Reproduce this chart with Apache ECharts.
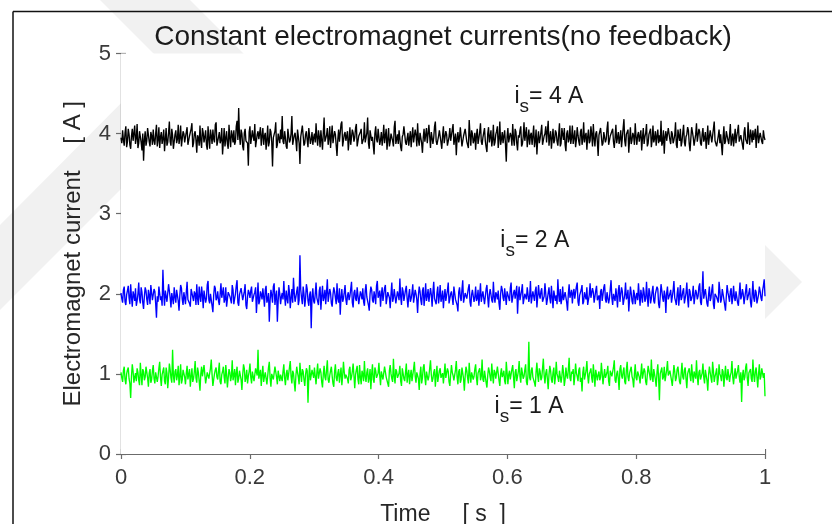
<!DOCTYPE html>
<html>
<head>
<meta charset="utf-8">
<script src="https://cdn.jsdelivr.net/npm/echarts@6/dist/echarts.min.js"></script>
<style>
html,body{margin:0;padding:0;background:#fff;overflow:hidden;}
#c{width:832px;height:524px;}
</style>
</head>
<body>
<div id="c"></div>
<script>
// ---- data ----
const titleText = 'Constant electromagnet currents(no feedback)';
const xName = 'Time     [ s  ]';
const yName = 'Electromagnet current    [ A ]';
const xTicks = [0, 0.2, 0.4, 0.6, 0.8, 1];
const yTicks = [0, 1, 2, 3, 4, 5];
const timeStart = 0, timeEnd = 1;

const current4A = [
3.95,3.88,4.04,3.92,3.85,4.01,4.09,3.83,3.90,4.06,3.99,3.86,3.81,3.97,4.06,3.91,3.93,4.10,3.87,3.94,4.12,3.82,3.88,4.03,4.01,3.89,3.79,4.00,3.66,3.92,4.03,3.85,3.91,4.07,4.08,3.90,3.84,4.02,3.97,3.86,
4.05,3.91,3.86,4.00,4.11,3.84,3.92,4.08,3.82,3.96,4.02,3.87,3.94,4.05,3.78,3.93,4.07,3.85,3.89,4.01,4.15,3.90,3.85,4.06,3.98,3.81,3.80,3.99,4.04,3.88,3.93,4.11,3.87,3.95,4.10,3.84,3.83,4.03,4.00,3.89,
3.90,4.02,4.08,3.86,3.84,3.97,3.99,4.06,4.13,3.83,3.88,4.00,4.03,3.92,3.76,3.98,3.95,3.85,4.10,3.91,3.82,4.07,4.01,3.89,3.96,4.04,3.86,3.80,4.09,3.94,3.81,4.05,3.97,3.87,4.05,3.93,3.89,4.11,4.14,3.85,
3.85,3.96,4.02,3.88,3.92,4.07,3.74,3.90,4.07,3.84,3.94,4.03,3.87,3.81,4.11,3.95,3.83,4.04,3.98,3.89,4.04,3.86,3.90,4.09,4.16,3.92,4.32,3.97,3.86,4.05,4.00,3.84,3.79,4.01,4.06,3.91,3.93,3.88,3.60,4.02,
4.09,3.87,3.88,4.04,3.96,3.91,4.12,3.83,3.82,3.99,4.03,3.93,3.91,4.08,3.85,3.97,4.07,3.86,3.97,4.01,3.80,3.92,4.10,3.84,3.89,4.06,4.02,3.90,3.59,3.95,3.94,4.03,4.14,3.82,3.86,4.00,3.99,3.88,4.05,3.93,
4.22,3.90,3.87,4.03,3.95,3.84,3.81,4.06,4.08,3.89,3.92,4.00,4.22,3.86,3.84,3.98,4.01,3.91,3.78,4.05,4.06,3.88,3.62,3.96,3.97,4.10,4.11,3.85,3.88,3.99,4.03,3.92,3.83,4.07,4.09,3.87,3.93,4.02,3.86,3.95,
4.00,3.89,4.13,3.95,3.85,4.04,3.96,3.83,4.04,3.92,3.80,4.01,4.20,3.90,3.89,3.98,4.07,3.86,3.94,4.09,3.82,3.97,4.10,3.88,3.87,4.03,3.99,3.85,3.72,3.93,4.05,3.90,3.91,4.12,4.15,3.84,3.84,3.99,4.02,3.91,
3.93,4.03,3.79,3.92,4.08,3.86,3.88,4.05,4.01,3.90,3.95,4.07,4.12,3.84,3.83,3.97,3.98,4.02,4.06,3.87,3.86,3.94,4.14,3.89,3.90,4.01,4.20,3.88,3.81,4.04,4.03,3.91,3.96,3.85,3.74,4.00,4.09,3.93,3.89,4.06,
4.04,3.86,3.92,4.02,3.85,3.95,4.11,3.88,3.97,4.06,3.80,3.93,4.07,3.84,3.90,4.00,4.02,3.91,3.84,4.08,4.16,3.87,3.93,3.99,3.87,4.04,4.05,3.83,3.78,3.96,3.99,4.09,4.10,3.89,3.86,3.94,4.01,3.85,3.94,4.03,
3.83,3.97,4.08,3.89,3.91,4.05,3.98,3.84,4.13,3.92,3.85,4.01,4.03,3.88,3.76,3.95,4.06,3.90,3.92,4.07,3.88,3.86,4.11,3.96,3.82,4.02,4.00,3.87,3.95,4.09,4.15,3.91,3.86,3.84,3.97,4.04,4.04,3.89,3.81,3.98,
4.09,3.88,3.90,4.03,3.99,3.85,3.84,3.96,4.07,3.91,3.93,4.05,4.12,3.86,3.87,4.00,3.73,3.94,4.02,3.89,3.95,4.08,4.10,3.84,3.83,3.97,3.98,4.06,4.05,3.90,3.89,3.82,4.17,3.99,3.85,4.04,4.00,3.88,3.92,4.01,
3.80,3.98,4.06,3.87,3.94,4.02,4.13,3.90,3.86,3.95,4.01,4.07,3.91,3.83,3.77,4.00,4.08,3.89,3.96,4.04,3.84,3.92,4.11,3.85,3.89,3.99,4.03,4.09,3.82,3.93,4.15,3.86,3.93,4.02,3.88,3.97,4.04,3.87,3.65,3.96,
4.07,3.89,3.90,4.01,3.97,3.85,4.12,3.93,3.85,4.06,4.02,3.88,3.79,3.98,3.95,4.04,4.09,3.84,3.87,3.96,4.14,3.91,3.92,4.08,3.83,3.94,4.05,3.86,3.98,4.01,3.86,3.97,4.10,3.83,3.91,4.05,3.74,3.93,4.03,3.88,
3.94,4.02,4.11,3.86,3.84,3.97,4.00,4.09,3.89,3.91,4.16,3.85,3.96,4.03,3.81,3.94,4.06,3.88,3.92,4.04,4.01,3.90,3.85,3.99,4.13,3.84,3.88,4.07,3.99,3.92,4.07,3.86,3.78,4.00,4.04,3.89,3.93,4.10,3.87,3.95,
4.10,3.87,3.95,4.04,3.83,3.92,4.08,3.98,3.90,3.85,4.02,4.06,3.86,3.93,4.14,3.89,3.97,4.01,3.80,3.96,4.05,3.88,3.91,4.09,3.99,3.84,4.12,3.94,3.84,4.00,4.03,3.90,3.72,3.98,3.96,4.07,4.09,3.85,3.88,4.02,
4.01,3.89,3.93,4.06,4.15,3.86,3.85,3.97,3.98,4.03,4.06,3.90,3.82,3.95,4.11,3.88,3.90,4.02,3.87,3.94,4.04,3.83,3.95,4.07,4.18,3.91,3.84,3.99,4.00,4.05,3.76,3.93,4.08,3.87,3.92,4.01,3.97,3.86,4.13,3.96,
3.86,3.98,4.02,3.90,3.91,4.04,3.79,3.95,4.07,3.87,3.96,4.01,4.12,3.84,3.88,3.99,4.01,4.06,3.83,3.92,4.10,3.89,3.94,4.03,3.85,3.97,4.05,3.88,3.98,3.90,4.16,3.85,3.89,4.04,3.75,3.96,4.03,3.91,3.93,4.07,
4.09,3.92,3.87,4.03,4.00,3.88,3.92,3.98,4.14,3.86,3.82,4.05,3.97,3.91,4.06,3.84,3.90,4.01,4.11,3.89,3.84,3.96,3.99,4.08,4.04,3.87,3.78,3.94,4.08,4.02,3.95,3.85,3.86,3.99,4.13,3.90,3.91,4.06,4.02,3.88,
3.85,3.99,4.07,3.90,3.94,4.02,3.81,3.93,4.10,3.86,3.96,4.04,4.03,3.89,3.88,4.06,4.15,3.91,3.92,3.84,3.83,3.97,4.05,3.88,3.99,4.01,3.73,3.95,4.09,3.87,3.90,4.03,4.01,3.92,3.87,3.98,4.12,3.85,3.94,4.00,
3.84,3.95,4.06,3.88,3.97,4.03,4.11,3.90,3.89,3.98,4.00,3.86,3.80,4.02,4.08,3.93,3.93,3.87,4.14,3.96,3.86,4.05,3.98,3.89,4.04,3.92,3.91,4.06,3.82,3.97,4.10,3.88,3.95,4.01,4.02,3.90,3.87,4.04,3.96,3.92
];
const current2A = [
2.01,1.94,1.89,2.05,2.09,1.90,1.86,1.99,2.04,2.10,1.95,1.87,2.12,1.96,1.84,2.03,1.98,1.91,2.07,1.85,1.91,2.00,2.14,1.93,1.88,2.08,2.02,1.89,1.81,1.97,2.08,2.04,1.93,1.86,2.05,1.98,1.87,2.11,2.11,1.92,
1.94,2.06,2.03,1.88,1.70,1.97,1.90,2.09,2.10,1.92,1.97,1.85,2.30,2.00,1.85,2.04,2.06,1.90,1.92,2.12,2.13,1.95,1.83,2.01,1.99,1.87,2.08,1.96,1.89,2.05,2.04,1.91,1.79,1.98,2.11,2.07,1.93,1.86,2.02,1.95,
1.87,2.02,2.15,1.93,1.95,1.88,1.84,2.06,2.07,1.96,1.91,2.03,2.00,1.86,2.12,1.94,1.86,2.09,1.97,1.90,2.09,1.99,1.82,2.04,2.05,1.89,1.94,2.11,2.16,1.92,1.88,2.00,2.01,1.85,1.77,1.98,2.10,2.07,1.92,1.95,
2.03,1.91,1.86,2.00,2.13,1.95,1.96,2.08,1.89,1.93,2.08,1.84,1.83,2.02,2.04,1.97,1.93,1.88,2.11,2.05,1.87,1.94,2.00,2.10,2.17,1.89,1.85,1.99,1.98,2.07,2.06,1.92,1.90,2.03,2.12,1.86,1.81,1.96,2.05,2.01,
1.95,2.04,2.09,1.90,1.88,1.99,2.02,2.08,1.76,1.94,2.14,1.87,1.91,2.03,1.99,1.93,2.07,1.96,1.84,2.05,2.10,1.89,1.93,2.01,1.65,1.92,2.05,1.98,1.89,2.09,2.13,1.86,1.97,2.04,1.65,1.91,2.08,2.00,1.87,1.96,
2.01,1.93,2.16,1.97,1.85,2.04,1.94,1.88,2.11,2.02,1.82,1.95,2.06,1.89,2.20,2.01,1.90,1.96,2.03,2.09,1.86,1.92,2.48,2.05,1.95,1.87,2.09,2.00,1.84,1.94,2.12,2.06,1.91,1.85,1.99,2.03,1.57,1.96,2.07,1.91,
1.88,2.00,2.14,1.95,1.93,1.86,2.04,2.09,1.80,1.97,2.10,1.91,1.96,2.05,1.87,2.02,2.18,1.90,1.92,2.06,2.01,1.88,1.84,1.99,2.08,2.03,1.95,1.87,2.13,1.94,1.89,2.07,1.74,1.96,2.06,1.90,1.94,2.02,2.11,1.93,
1.86,1.98,2.02,1.92,1.97,2.06,2.15,1.89,1.83,2.01,2.05,1.94,1.91,2.08,2.10,1.87,1.88,2.03,1.99,1.93,2.07,1.90,1.85,2.04,2.12,1.96,1.94,1.86,1.79,2.00,2.09,2.05,1.92,1.89,2.03,1.97,1.87,2.10,2.16,1.95,
1.96,2.04,1.84,1.99,2.08,1.91,1.93,2.07,2.11,1.87,1.89,2.02,2.01,1.95,1.82,2.00,2.14,1.90,1.95,2.06,2.05,1.88,1.88,2.03,1.98,1.92,2.19,1.96,1.86,2.08,2.03,1.91,1.91,2.05,2.10,1.94,1.83,1.98,2.06,1.90,
1.94,2.01,2.12,1.89,1.87,2.05,2.00,1.93,1.76,1.98,2.09,2.03,1.92,1.86,2.04,2.08,1.85,1.96,2.13,1.91,1.97,2.06,1.90,1.88,2.07,1.99,1.84,2.02,2.15,1.94,1.93,1.87,2.01,2.09,1.88,1.97,2.11,1.90,1.95,2.04,
1.82,1.97,2.06,1.91,1.98,2.04,2.14,1.88,1.89,2.00,2.03,1.95,1.86,2.09,2.10,1.93,1.93,1.86,1.78,2.02,2.08,1.96,1.91,2.05,2.17,1.89,1.87,2.01,2.02,1.94,1.95,2.07,2.12,1.90,1.84,1.99,2.05,2.03,1.90,1.96,
2.09,1.91,1.94,2.05,1.85,1.98,2.13,1.90,1.97,2.03,2.01,1.87,1.88,2.06,2.11,1.95,1.83,1.99,2.06,2.08,1.92,1.89,2.15,1.96,1.89,2.02,1.99,1.93,2.04,1.88,1.80,2.00,2.10,2.05,1.95,1.91,2.07,1.97,1.86,2.03,
2.02,1.95,1.91,2.07,2.14,1.89,1.87,2.01,2.05,1.94,1.96,2.10,1.75,1.98,2.09,1.92,1.93,2.04,2.12,1.87,1.85,2.00,2.00,1.93,2.08,2.06,1.90,1.97,2.16,1.88,1.88,2.03,1.97,1.91,2.04,2.09,1.83,1.96,2.11,1.99,
1.94,2.03,2.07,1.90,1.89,1.97,2.13,2.00,1.86,1.93,2.01,2.08,1.95,1.88,2.10,1.96,1.82,2.04,2.05,1.91,1.98,1.87,2.18,1.99,1.90,2.06,1.87,1.94,2.09,1.92,1.93,2.02,2.03,1.89,1.79,2.00,2.12,1.95,1.96,2.05,
1.88,2.01,2.06,1.94,1.92,2.09,2.14,1.90,1.85,1.98,2.00,2.05,2.11,1.87,1.90,2.02,1.97,1.93,2.08,1.86,1.84,1.99,2.13,1.95,1.95,2.07,2.02,1.89,1.87,2.04,2.10,1.92,1.93,1.98,1.81,2.03,2.06,1.91,1.99,2.08,
2.12,1.93,1.89,2.02,2.04,1.88,1.94,2.06,2.17,1.95,1.86,2.00,1.98,1.91,2.07,1.97,1.83,2.04,2.11,1.90,1.92,2.08,2.03,1.86,1.88,1.99,2.14,1.93,1.96,2.05,1.78,1.94,2.09,2.01,1.91,1.87,2.05,2.00,1.87,1.96,
2.01,1.92,2.13,1.98,1.85,2.05,1.97,1.89,2.08,2.02,1.90,1.94,2.15,1.96,1.84,2.07,2.02,1.88,1.94,2.03,2.10,1.91,1.88,2.00,1.99,2.09,2.06,1.87,1.82,1.97,2.12,2.04,1.95,1.90,2.04,1.98,1.76,2.01,2.09,1.93,
1.93,2.00,2.05,1.89,1.87,2.04,2.16,1.95,1.91,1.86,2.00,2.08,1.85,1.97,2.11,1.92,1.96,2.03,2.07,1.88,1.89,2.01,2.14,1.94,1.83,2.06,2.03,1.91,1.94,1.99,2.10,1.87,1.88,2.05,2.01,1.93,1.97,2.09,2.13,1.90,
1.86,2.03,2.28,1.94,1.92,2.06,2.04,1.88,1.84,1.99,2.09,1.91,1.95,2.05,2.12,1.87,1.81,2.00,2.02,1.96,1.98,1.89,2.15,2.04,1.89,1.93,2.06,2.08,1.93,1.86,1.79,1.97,2.11,2.02,1.96,1.90,2.03,2.07,1.87,1.95,
2.10,1.96,1.91,2.03,2.05,1.89,1.85,2.00,2.14,1.93,1.97,2.06,2.00,1.87,1.88,2.04,2.12,1.92,1.94,2.01,2.07,1.90,1.83,1.98,2.16,1.95,1.90,2.05,2.02,1.88,1.86,1.99,2.09,2.03,1.95,1.91,2.04,2.10,2.18,1.97
];
const current1A = [
1.02,0.95,0.90,1.04,1.09,0.93,0.87,1.00,1.05,1.08,0.94,0.88,0.70,0.97,1.12,1.03,0.89,0.96,1.01,0.91,1.07,1.02,0.92,0.86,1.14,0.99,0.86,1.06,1.03,0.92,0.96,1.09,1.10,0.95,0.84,1.01,1.06,0.89,0.93,1.04,
1.11,0.94,0.88,1.02,1.04,0.90,0.97,1.07,1.15,0.96,0.85,0.99,1.00,1.08,0.91,0.87,1.08,1.01,0.82,0.95,1.13,1.05,0.95,0.89,1.30,0.98,0.89,1.03,1.06,0.92,0.98,1.10,0.86,0.97,1.12,0.88,0.93,1.05,1.03,0.96,
0.87,1.01,1.10,0.93,0.99,1.06,0.84,0.97,1.07,0.90,0.94,1.03,1.16,0.95,0.89,1.08,1.02,0.91,0.79,1.00,1.09,0.97,0.96,1.11,1.13,0.88,0.88,1.02,1.04,0.94,0.92,1.07,1.18,0.99,0.85,0.93,1.00,1.05,1.08,0.96,
0.93,1.04,1.14,0.90,0.87,0.99,1.03,1.09,0.96,0.88,1.11,1.00,0.83,0.95,1.06,1.02,0.91,0.97,1.17,0.92,0.98,1.06,0.86,1.01,1.09,0.89,0.94,1.04,1.02,0.93,0.80,0.99,1.12,1.07,0.90,0.95,1.05,0.88,0.97,1.03,
1.13,0.96,0.88,1.03,1.01,0.91,0.93,1.07,1.08,0.98,1.30,0.94,0.92,1.05,0.85,0.99,1.10,0.90,0.97,1.02,1.04,0.87,0.89,1.08,1.15,0.95,0.84,1.00,1.02,0.93,0.95,1.09,1.11,0.96,0.87,1.04,1.06,0.91,0.99,1.01,
0.91,1.03,1.12,0.95,0.86,1.00,1.05,0.92,0.94,1.08,1.16,0.97,0.88,1.04,1.01,0.89,0.78,0.98,1.09,1.02,0.96,0.87,1.14,1.00,0.90,1.06,1.03,0.93,0.85,0.99,1.07,1.04,0.64,0.96,1.11,0.92,0.93,1.05,1.00,0.95,
1.08,0.97,0.87,1.02,1.13,0.94,0.95,1.07,1.02,0.90,0.83,1.00,1.10,0.96,0.92,1.05,1.17,0.93,0.89,0.98,1.04,1.09,0.97,0.88,0.84,1.03,1.12,0.95,0.91,1.01,1.06,0.89,0.99,1.08,0.86,0.97,1.15,1.02,0.94,0.99,
1.01,0.94,0.88,1.05,1.09,0.92,0.96,1.03,1.13,0.98,0.82,0.99,1.05,1.10,0.93,0.87,1.11,0.96,0.87,1.04,1.00,0.91,1.16,0.97,0.90,1.02,1.07,0.89,0.95,1.06,0.81,1.00,1.12,0.93,0.89,1.08,1.04,0.95,0.97,1.01,
1.14,0.98,0.86,1.03,1.02,0.93,0.92,1.09,1.08,0.96,0.98,0.88,0.84,1.04,1.11,1.00,0.94,0.90,1.19,0.97,0.88,1.06,1.03,0.95,0.96,1.01,1.10,0.91,0.85,1.07,1.06,0.94,0.91,1.02,1.13,0.89,0.99,1.05,0.87,0.98,
1.05,0.91,0.93,1.06,1.15,0.97,0.89,1.02,1.01,0.94,0.80,1.00,1.09,0.88,0.95,1.08,1.12,0.96,0.86,1.03,1.04,0.92,0.97,1.07,1.17,0.99,0.90,0.94,1.02,1.06,0.84,0.98,1.10,0.90,0.92,1.04,1.07,0.95,0.96,1.01,
0.88,1.00,1.13,0.95,0.94,1.07,1.03,0.90,0.85,0.99,1.11,1.02,0.98,0.92,0.91,1.05,1.16,0.96,0.87,1.03,1.06,0.89,0.93,1.08,1.01,0.94,0.79,0.97,1.09,1.04,0.95,0.88,1.14,0.99,0.89,1.02,1.04,0.93,0.97,1.06,
1.12,0.95,0.86,1.01,1.00,1.07,0.92,0.97,1.18,0.93,0.90,1.04,1.05,0.89,0.83,0.98,1.08,1.03,0.96,0.91,1.13,0.99,0.88,1.05,1.02,0.94,0.94,1.09,1.10,0.92,0.85,1.00,1.07,0.96,0.99,1.04,0.91,0.87,1.15,1.02,
0.87,0.99,1.04,0.93,0.95,1.06,1.11,0.96,0.82,1.02,1.06,0.91,0.93,1.03,1.16,0.97,0.89,1.08,1.01,0.94,0.97,1.05,1.12,0.90,0.86,1.00,1.40,0.95,0.92,1.04,1.08,0.96,0.98,0.89,0.84,1.03,1.14,0.98,0.90,1.07,
1.03,0.92,0.95,1.07,1.19,0.98,0.88,1.01,1.06,0.94,0.81,0.99,1.10,1.04,0.93,0.89,1.02,1.08,0.87,0.96,1.15,1.00,0.96,0.90,1.04,1.06,0.89,0.97,1.11,1.02,0.85,0.93,1.08,0.98,0.94,1.05,1.20,0.95,0.91,1.03,
1.00,1.06,0.86,0.97,1.13,1.01,0.97,0.91,1.05,1.08,0.90,0.95,0.78,1.02,1.09,0.93,0.94,1.04,1.16,0.98,0.88,1.00,1.03,1.07,0.95,0.89,1.12,0.99,0.84,1.05,1.07,0.92,0.99,1.03,0.92,0.96,1.14,1.01,0.87,0.97,
1.06,0.95,0.93,1.02,1.10,0.91,0.85,1.04,1.02,0.97,0.96,1.08,1.17,0.92,0.89,1.00,1.04,0.94,0.80,1.06,1.11,0.98,0.94,1.03,1.08,0.90,0.87,1.05,1.15,0.96,0.91,1.01,1.01,1.09,0.97,0.93,0.83,1.00,1.12,0.95,
0.92,1.03,1.05,0.96,0.88,1.01,1.13,0.94,0.95,1.07,1.03,0.90,0.86,0.99,1.10,1.04,0.98,0.92,1.18,0.97,0.90,1.06,1.07,0.93,0.84,1.02,1.12,0.95,0.67,1.00,1.04,1.08,0.93,0.96,1.09,0.91,0.89,1.05,1.16,0.98,
0.96,1.04,1.02,0.92,0.85,0.98,1.11,1.03,0.91,0.95,1.06,1.09,0.99,0.90,0.87,1.01,1.14,0.96,0.93,1.05,1.08,0.94,0.82,1.00,1.04,1.07,0.97,0.91,1.12,0.99,0.89,1.03,1.01,0.94,1.17,0.97,0.86,1.02,1.05,0.93,
0.94,1.01,1.13,0.96,0.88,1.05,1.03,0.92,0.79,0.99,1.09,1.02,0.95,0.89,1.15,1.04,0.90,0.97,1.01,1.07,0.86,0.94,1.12,1.00,0.97,0.91,1.06,1.03,0.84,0.98,1.10,0.95,0.92,1.06,1.04,0.90,0.98,1.02,1.16,0.96,
0.87,0.99,1.07,0.94,0.93,1.04,1.11,0.97,0.89,1.02,0.65,0.98,1.05,0.92,0.96,1.08,1.13,0.95,0.85,1.01,1.02,1.06,0.94,0.90,1.18,0.99,0.90,1.03,1.08,0.96,0.83,1.00,1.12,0.93,0.97,1.07,1.06,0.95,1.01,0.72
];
const seriesNames = ['i_s = 4 A', 'i_s = 2 A', 'i_s = 1 A'];
const seriesColors = ['#000000', '#0000ff', '#00ff00'];
const labelValues = ['4 A', '2 A', '1 A'];
// anchor (time, current) of each annotation's left / digit-baseline
const labelAnchorT = [0.611, 0.589, 0.580];
const labelAnchorV = [4.34, 2.54, 0.474];

// ---- build ----
function withTime(vals) {
  const n = vals.length;
  return vals.map((v, i) => [timeStart + (timeEnd - timeStart) * i / (n - 1), v]);
}
const FONT = '"Liberation Sans", Arial, sans-serif';
const GRID = {left: 121, right: 67, top: 53.5, bottom: 70};
const axisGray = '#6b6b6b';
const labelGray = '#3a3a3a';

const chart = echarts.init(document.getElementById('c'), null, {renderer: 'canvas'});

function baseAxis(extra) {
  return Object.assign({
    type: 'value',
    axisLine: {show: true, lineStyle: {color: axisGray, width: 1.2}},
    axisTick: {show: true, inside: true, length: 5, lineStyle: {color: axisGray, width: 1.2}},
    splitLine: {show: false},
  }, extra);
}

const option = {
  backgroundColor: '#ffffff',
  animation: false,
  grid: Object.assign({show: true, backgroundColor: '#ffffff', borderWidth: 0, z: 1,
    containLabel: false, outerBoundsMode: 'none'}, GRID),
  xAxis: [
    baseAxis({min: xTicks[0], max: xTicks[xTicks.length - 1], interval: 0.2, position: 'bottom',
      axisLabel: {color: labelGray, fontSize: 22, fontFamily: FONT, margin: 13,
        formatter: v => String(+v.toFixed(1))},
      name: xName, nameLocation: 'middle', nameGap: 49,
      nameTextStyle: {color: '#262626', fontSize: 23, fontFamily: FONT}}),
    baseAxis({min: xTicks[0], max: xTicks[xTicks.length - 1], interval: 0.2, position: 'top', axisLabel: {show: false}})
  ],
  yAxis: [
    baseAxis({min: yTicks[0], max: yTicks[yTicks.length - 1], interval: 1, position: 'left',
      axisLabel: {color: labelGray, fontSize: 22, fontFamily: FONT, margin: 10},
      name: yName, nameLocation: 'middle', nameGap: 36,
      nameTextStyle: {color: '#262626', fontSize: 24, fontFamily: FONT}}),
    baseAxis({min: yTicks[0], max: yTicks[yTicks.length - 1], interval: 1, position: 'right', axisLabel: {show: false}})
  ],
  series: [current4A, current2A, current1A].map((vals, k) => ({
    name: seriesNames[k],
    type: 'line',
    data: withTime(vals),
    showSymbol: false,
    symbol: 'none',
    sampling: null,
    lineStyle: {color: seriesColors[k], width: 1.35, join: 'bevel'},
    itemStyle: {color: seriesColors[k]},
    z: 3
  }))
};
chart.setOption(option);

// decorations: watermark, frame, title, annotations
const wm = '#f1f1f1';
const graphics = [
  {type: 'polygon', z: -10, shape: {points: [[100,0],[190,0],[250,60],[0,310],[0,225],[162,62]]}, style: {fill: wm}},
  {type: 'polygon', z: -10, shape: {points: [[712,192],[802,282],[712,372],[622,372],[712,282],[622,192]]}, style: {fill: wm}},
  {type: 'line', z: 5, shape: {x1: 13, y1: 11.5, x2: 832, y2: 11.5}, style: {stroke: '#111', lineWidth: 1.5}},
  {type: 'line', z: 5, shape: {x1: 13, y1: 11.5, x2: 13, y2: 524}, style: {stroke: '#111', lineWidth: 1.5}},
];
const gl = GRID.left, gr = 832 - GRID.right;
graphics.push({type: 'text', z: 10, x: (gl + gr) / 2, y: 37,
  style: {text: titleText, fill: '#1a1a1a', font: '28px ' + FONT, textAlign: 'center', textVerticalAlign: 'middle'}});
for (let k = 0; k < labelValues.length; k++) {
  const p = chart.convertToPixel({xAxisIndex: 0, yAxisIndex: 0}, [labelAnchorT[k], labelAnchorV[k]]);
  graphics.push({type: 'text', z: 10, x: p[0], y: p[1] - 21,
    style: {
      text: '{i|i}{s|s}{n|= ' + labelValues[k] + '}',
      textAlign: 'left', textVerticalAlign: 'top',
      rich: {
        i: {fontSize: 23, fontFamily: FONT, fill: '#1a1a1a', lineHeight: 26, verticalAlign: 'top'},
        s: {fontSize: 19, fontFamily: FONT, fill: '#1a1a1a', lineHeight: 26, verticalAlign: 'top', padding: [12, 0, 0, 0]},
        n: {fontSize: 23, fontFamily: FONT, fill: '#1a1a1a', lineHeight: 26, verticalAlign: 'top'}
      }
    }});
}
chart.setOption({graphic: {elements: graphics}});
</script>
</body>
</html>
